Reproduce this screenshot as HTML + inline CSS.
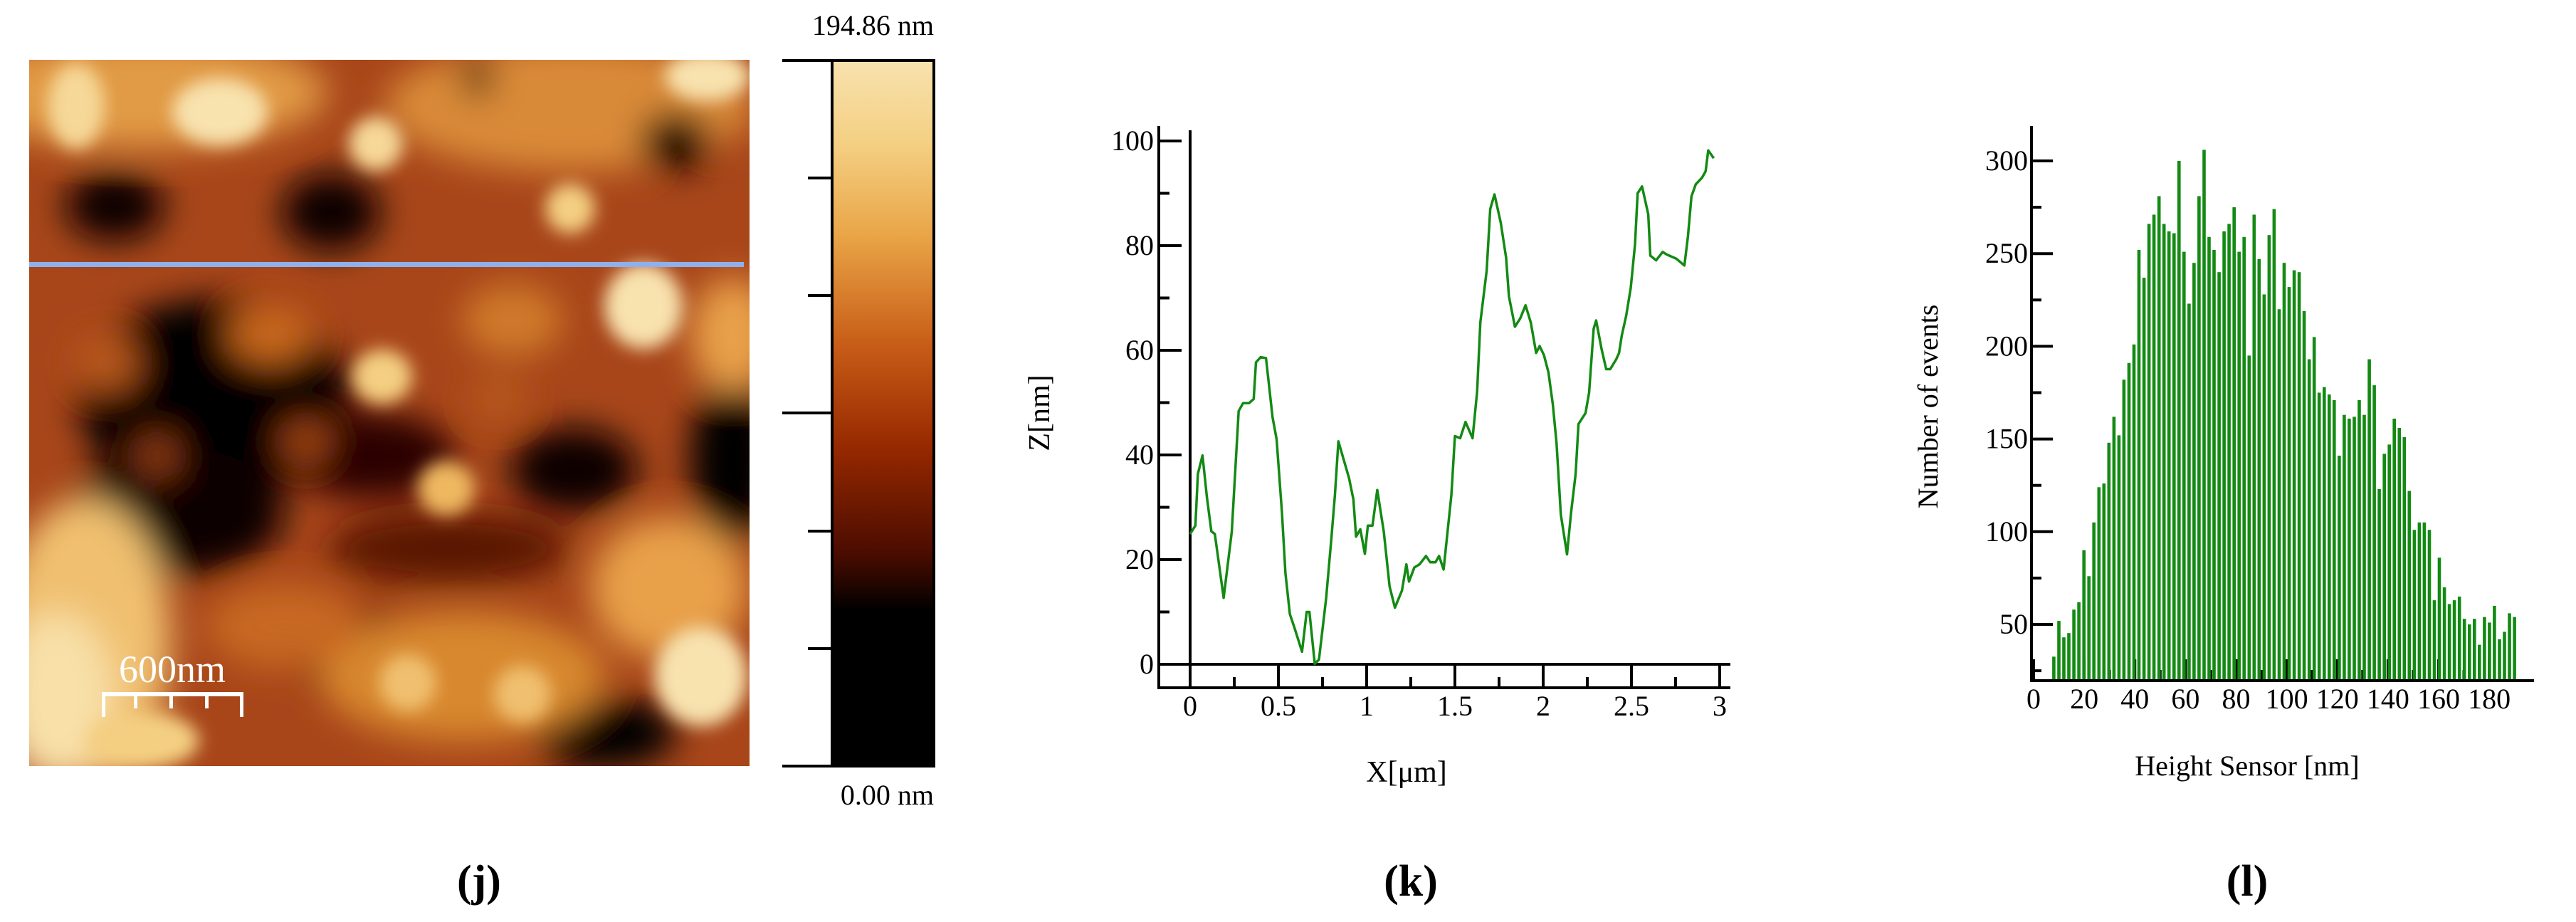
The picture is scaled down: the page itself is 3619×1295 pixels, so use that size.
<!DOCTYPE html>
<html><head><meta charset="utf-8"><style>
html,body{margin:0;padding:0;background:#fff;}
svg{display:block;}
text{font-family:"Liberation Serif","DejaVu Serif","Times New Roman",serif;fill:#000;}
</style></head><body>
<svg id="root" width="3619" height="1295" viewBox="0 0 3619 1295" xmlns="http://www.w3.org/2000/svg" font-family="Liberation Serif, DejaVu Serif, serif">
<defs>
<linearGradient id="cmap" x1="0" y1="1" x2="0" y2="0">
<stop offset="0" stop-color="#000"/><stop offset="0.22" stop-color="#000"/>
<stop offset="0.3" stop-color="#4a0c00"/><stop offset="0.45" stop-color="#962800"/>
<stop offset="0.6" stop-color="#c85e18"/><stop offset="0.75" stop-color="#e9a446"/>
<stop offset="0.88" stop-color="#f4cf82"/><stop offset="1" stop-color="#f8e2ae"/>
</linearGradient>
<filter id="blur" x="-30%" y="-30%" width="160%" height="160%"><feGaussianBlur stdDeviation="24"/></filter>
<filter id="blur2" x="-30%" y="-30%" width="160%" height="160%"><feGaussianBlur stdDeviation="12"/></filter>
<clipPath id="imgclip"><rect x="41" y="84" width="1012" height="992"/></clipPath>
</defs>

<!-- Panel j: AFM image -->
<g clip-path="url(#imgclip)">
<rect x="41" y="84" width="1012" height="992" fill="#a8461a"/>
<g filter="url(#blur)">
<ellipse cx="200" cy="130" rx="260" ry="80" fill="#e19a45"/>
<ellipse cx="800" cy="150" rx="260" ry="90" fill="#d98a38"/>
<ellipse cx="161" cy="289" rx="70" ry="50" fill="#100100"/>
<ellipse cx="465" cy="298" rx="70" ry="55" fill="#080000"/>
<ellipse cx="949" cy="198" rx="50" ry="40" fill="#080000"/>
<ellipse cx="671" cy="110" rx="22" ry="26" fill="#200300"/>
<ellipse cx="300" cy="560" rx="190" ry="140" fill="#050000"/>
<ellipse cx="250" cy="720" rx="150" ry="90" fill="#0a0000"/>
<ellipse cx="520" cy="640" rx="120" ry="60" fill="#2a0500"/>
<ellipse cx="1030" cy="645" rx="60" ry="120" fill="#050000"/>
<ellipse cx="806" cy="660" rx="90" ry="60" fill="#0a0000"/>
<ellipse cx="492" cy="909" rx="100" ry="50" fill="#0a0000"/>
<ellipse cx="850" cy="1030" rx="100" ry="50" fill="#050000"/>
<ellipse cx="630" cy="770" rx="170" ry="50" fill="#5a1200"/>
<ellipse cx="120" cy="900" rx="120" ry="200" fill="#f0c070"/>
<ellipse cx="80" cy="980" rx="80" ry="120" fill="#f8e0a8"/>
<ellipse cx="940" cy="826" rx="110" ry="100" fill="#e8a048"/>
<ellipse cx="650" cy="950" rx="200" ry="90" fill="#d8882e"/>
<ellipse cx="400" cy="880" rx="110" ry="60" fill="#c86820"/>
<ellipse cx="1030" cy="470" rx="60" ry="80" fill="#e8a048"/>
<ellipse cx="150" cy="510" rx="45" ry="40" fill="#b8581c"/>
<ellipse cx="380" cy="470" rx="60" ry="40" fill="#c8681e"/>
<ellipse cx="430" cy="620" rx="35" ry="30" fill="#a04418"/>
<ellipse cx="220" cy="640" rx="30" ry="30" fill="#903c14"/>
<ellipse cx="720" cy="450" rx="70" ry="50" fill="#d07a2a"/>
<ellipse cx="700" cy="560" rx="40" ry="30" fill="#b85a1e"/>
</g>
<g filter="url(#blur2)">
<ellipse cx="309" cy="157" rx="67" ry="47" fill="#f8e2ae"/>
<ellipse cx="107" cy="149" rx="40" ry="60" fill="#f6d898"/>
<ellipse cx="528" cy="202" rx="38" ry="38" fill="#f6d898"/>
<ellipse cx="801" cy="293" rx="35" ry="35" fill="#f4cf82"/>
<ellipse cx="994" cy="107" rx="60" ry="35" fill="#f8e2ae"/>
<ellipse cx="904" cy="430" rx="55" ry="60" fill="#f8e2ae"/>
<ellipse cx="537" cy="529" rx="42" ry="38" fill="#f4cf82"/>
<ellipse cx="627" cy="686" rx="40" ry="38" fill="#eeb860"/>
<ellipse cx="985" cy="950" rx="65" ry="70" fill="#f8e2ae"/>
<ellipse cx="573" cy="959" rx="40" ry="40" fill="#f0c070"/>
<ellipse cx="734" cy="975" rx="40" ry="40" fill="#f0c070"/>
<ellipse cx="200" cy="1040" rx="80" ry="40" fill="#f4cf82"/>
</g>
</g>
<rect x="41" y="368" width="1004" height="7" fill="#8fb0ee"/>
<text x="242" y="958" font-size="54" text-anchor="middle" style="fill:#fff">600nm</text>
<g fill="#fff">
<rect x="143" y="972" width="199" height="6"/>
<rect x="143" y="972" width="5" height="35"/><rect x="337" y="972" width="5" height="35"/>
<rect x="188" y="972" width="5" height="23"/><rect x="238" y="972" width="5" height="23"/><rect x="288" y="972" width="5" height="23"/>
</g>
<g>
<rect x="1169" y="85" width="143" height="991" fill="url(#cmap)" stroke="#000" stroke-width="4"/>
<line x1="1099" y1="85" x2="1169" y2="85" stroke="#000" stroke-width="4"/>
<line x1="1099" y1="580" x2="1169" y2="580" stroke="#000" stroke-width="4"/>
<line x1="1099" y1="1076" x2="1169" y2="1076" stroke="#000" stroke-width="4"/>
<line x1="1135" y1="250" x2="1169" y2="250" stroke="#000" stroke-width="4"/>
<line x1="1135" y1="415" x2="1169" y2="415" stroke="#000" stroke-width="4"/>
<line x1="1135" y1="746" x2="1169" y2="746" stroke="#000" stroke-width="4"/>
<line x1="1135" y1="911" x2="1169" y2="911" stroke="#000" stroke-width="4"/>
</g>
<text x="1312" y="49" font-size="40" text-anchor="end">194.86 nm</text>
<text x="1312" y="1130" font-size="40" text-anchor="end">0.00 nm</text>
<text x="673" y="1258" font-size="62" font-weight="bold" text-anchor="middle">(j)</text>

<!-- Panel k -->
<g id="chartK"></g>
<text x="1976" y="1098" font-size="42" text-anchor="middle">X[μm]</text>
<text transform="translate(1474,580) rotate(-90)" font-size="42" text-anchor="middle">Z[nm]</text>
<text x="1982" y="1258" font-size="62" font-weight="bold" text-anchor="middle">(k)</text>

<!-- Panel l -->
<g id="chartL"></g>
<text x="3157" y="1089" font-size="40" text-anchor="middle">Height Sensor [nm]</text>
<text transform="translate(2722,571) rotate(-90)" font-size="40" text-anchor="middle">Number of events</text>
<text x="3157" y="1258" font-size="62" font-weight="bold" text-anchor="middle">(l)</text>
</svg>
<script>
const NS="http://www.w3.org/2000/svg";
// ---- Chart k data ----
const profileX=[0,0.03,0.044,0.07,0.095,0.12,0.14,0.19,0.236,0.256,0.275,0.3,0.334,0.36,0.373,0.4,0.43,0.467,0.49,0.52,0.54,0.565,0.59,0.634,0.66,0.676,0.706,0.73,0.77,0.8,0.82,0.84,0.9,0.925,0.94,0.964,0.99,1.007,1.033,1.06,1.097,1.13,1.16,1.2,1.225,1.24,1.27,1.3,1.336,1.36,1.39,1.41,1.436,1.48,1.5,1.53,1.56,1.6,1.626,1.644,1.68,1.7,1.724,1.76,1.79,1.806,1.84,1.87,1.9,1.93,1.96,1.98,2.004,2.03,2.055,2.076,2.1,2.135,2.158,2.184,2.2,2.24,2.26,2.286,2.3,2.33,2.357,2.38,2.414,2.43,2.445,2.47,2.496,2.52,2.535,2.56,2.595,2.607,2.64,2.677,2.7,2.755,2.8,2.82,2.84,2.864,2.9,2.92,2.935,2.966];
const profileZ=[24.9,26.5,36.4,39.9,31.9,25.4,24.9,12.7,25.3,37.2,48.4,49.9,49.9,50.7,57.7,58.7,58.5,47.2,43,29,17.4,9.6,7.1,2.4,10,10,0.1,0.9,12.5,24,32.3,42.6,35.6,31.5,24.4,25.8,21.1,26.5,26.5,33.3,25.3,14.9,10.8,14.1,19.1,15.8,18.5,19.1,20.7,19.5,19.5,20.7,18.1,32.3,43.6,43.2,46.3,43.2,52.1,65.3,75.2,87,89.8,84.3,77.7,70.3,64.5,66.1,68.6,65.3,59.5,60.8,59.1,55.8,49.6,42.2,28.6,21,29,36.4,45.9,48,51.9,64.1,65.7,60.4,56.4,56.4,58.3,59.5,62.8,66.6,71.9,80.2,90,91.3,86,78.1,77.2,78.8,78.3,77.5,76.2,81.8,89.4,91.7,93,94.2,98.2,96.7];
const kYTicks=[0,20,40,60,80,100];
const kYMinor=[10,30,50,70,90];
const kXTicks=[0,0.5,1,1.5,2,2.5,3];
const kXTickLabels=["0","0.5","1","1.5","2","2.5","3"];
const kXMinor=[0.25,0.75,1.25,1.75,2.25,2.75];
// ---- Chart l data ----
const binStart=8.0;
const binWidth=1.978;
const counts=[32.6,51.9,43,45.3,58,62,90,76,105,124,126,148,162,152,182,191,201,252,237,266,271,281,266,262,261,300,251,223,245,281,306,259,252,240,262,266,275,251,259,195,271,247,228,260,274,220,245,232,241,240,219,193,205,175,178,174,171,141,163,161,162,171,163,193,179,123,142,147,161,156,151,122,101,105,105,101,63,86,70,61,63,65,53,50,53,39,54,51,60,42,46,56,54];
const lYTicks=[50,100,150,200,250,300];
const lYMinor=[25,75,125,175,225,275];
const lXTicks=[0,20,40,60,80,100,120,140,160,180];
const lXMinor=[10,30,50,70,90,110,130,150,170];

function mk(tag,attrs,parent){const e=document.createElementNS(NS,tag);for(const k in attrs)e.setAttribute(k,attrs[k]);parent.appendChild(e);return e;}

// Chart k
(function(){
const g=document.getElementById('chartK');
const xk=v=>1672+v*248, yk=v=>933-v*7.35;
const st={stroke:"#000","stroke-width":4};
let e=mk('line',Object.assign({x1:1628,y1:177,x2:1628,y2:966},st),g);

e=mk('line',Object.assign({x1:1672,y1:183,x2:1672,y2:966},st),g);

e=mk('line',Object.assign({x1:1626,y1:966,x2:2431,y2:966},st),g);

e=mk('line',Object.assign({x1:1628,y1:yk(0),x2:2431,y2:yk(0)},st),g);

kYTicks.forEach(v=>{
 const t=mk('line',Object.assign({x1:1628,y1:yk(v),x2:1660,y2:yk(v)},st),g);
 
 const l=mk('text',{x:1621,y:yk(v)+13,'font-size':40,'text-anchor':'end'},g);l.textContent=String(v);
 
});
kYMinor.forEach(v=>{
 const t=mk('line',Object.assign({x1:1628,y1:yk(v),x2:1643,y2:yk(v)},st),g);
 
});
kXTicks.forEach((v,i)=>{
 if(v>0){const t=mk('line',Object.assign({x1:xk(v),y1:933,x2:xk(v),y2:966},st),g);
 }
 const l=mk('text',{x:xk(v),y:1005,'font-size':40,'text-anchor':'middle'},g);l.textContent=kXTickLabels[i];
 
});
kXMinor.forEach(v=>{
 const t=mk('line',Object.assign({x1:xk(v),y1:951,x2:xk(v),y2:966},st),g);
 
});
const pts=profileX.map((x,i)=>xk(x).toFixed(1)+","+yk(profileZ[i]).toFixed(1)).join(" ");
const p=mk('polyline',{points:pts,fill:"none",stroke:"#138a13","stroke-width":3.5,"stroke-linejoin":"round"},g);

})();

// Chart l
(function(){
const g=document.getElementById('chartL');
const xl=v=>2857+v*3.556, yl=v=>877-(v-50)*2.604;
const base=956;
const st={stroke:"#000","stroke-width":4};
lXTicks.forEach(v=>{
 const t=mk('line',Object.assign({x1:xl(v),y1:base-30,x2:xl(v),y2:base},st),g);
 
 const l=mk('text',{x:xl(v),y:995,'font-size':40,'text-anchor':'middle'},g);l.textContent=String(v);
 
});
lXMinor.forEach(v=>{
 const t=mk('line',Object.assign({x1:xl(v),y1:base-15,x2:xl(v),y2:base},st),g);
 
});
counts.forEach((c,i)=>{
 const cx=xl(binStart+binWidth*i);
 const r=mk('rect',{x:(cx-2.3).toFixed(1),y:yl(c).toFixed(1),width:4.6,height:(base-yl(c)).toFixed(1),fill:"#138a13"},g);
 
});
let e=mk('line',Object.assign({x1:2854,y1:177,x2:2854,y2:base+2},st),g);

e=mk('line',Object.assign({x1:2852,y1:base,x2:3560,y2:base},st),g);

lYTicks.forEach(v=>{
 const t=mk('line',Object.assign({x1:2854,y1:yl(v),x2:2884,y2:yl(v)},st),g);
 
 const l=mk('text',{x:2849,y:yl(v)+13,'font-size':40,'text-anchor':'end'},g);l.textContent=String(v);
 
});
lYMinor.forEach(v=>{
 const t=mk('line',Object.assign({x1:2854,y1:yl(v),x2:2868,y2:yl(v)},st),g);
 
});
})();
</script>
</body></html>
